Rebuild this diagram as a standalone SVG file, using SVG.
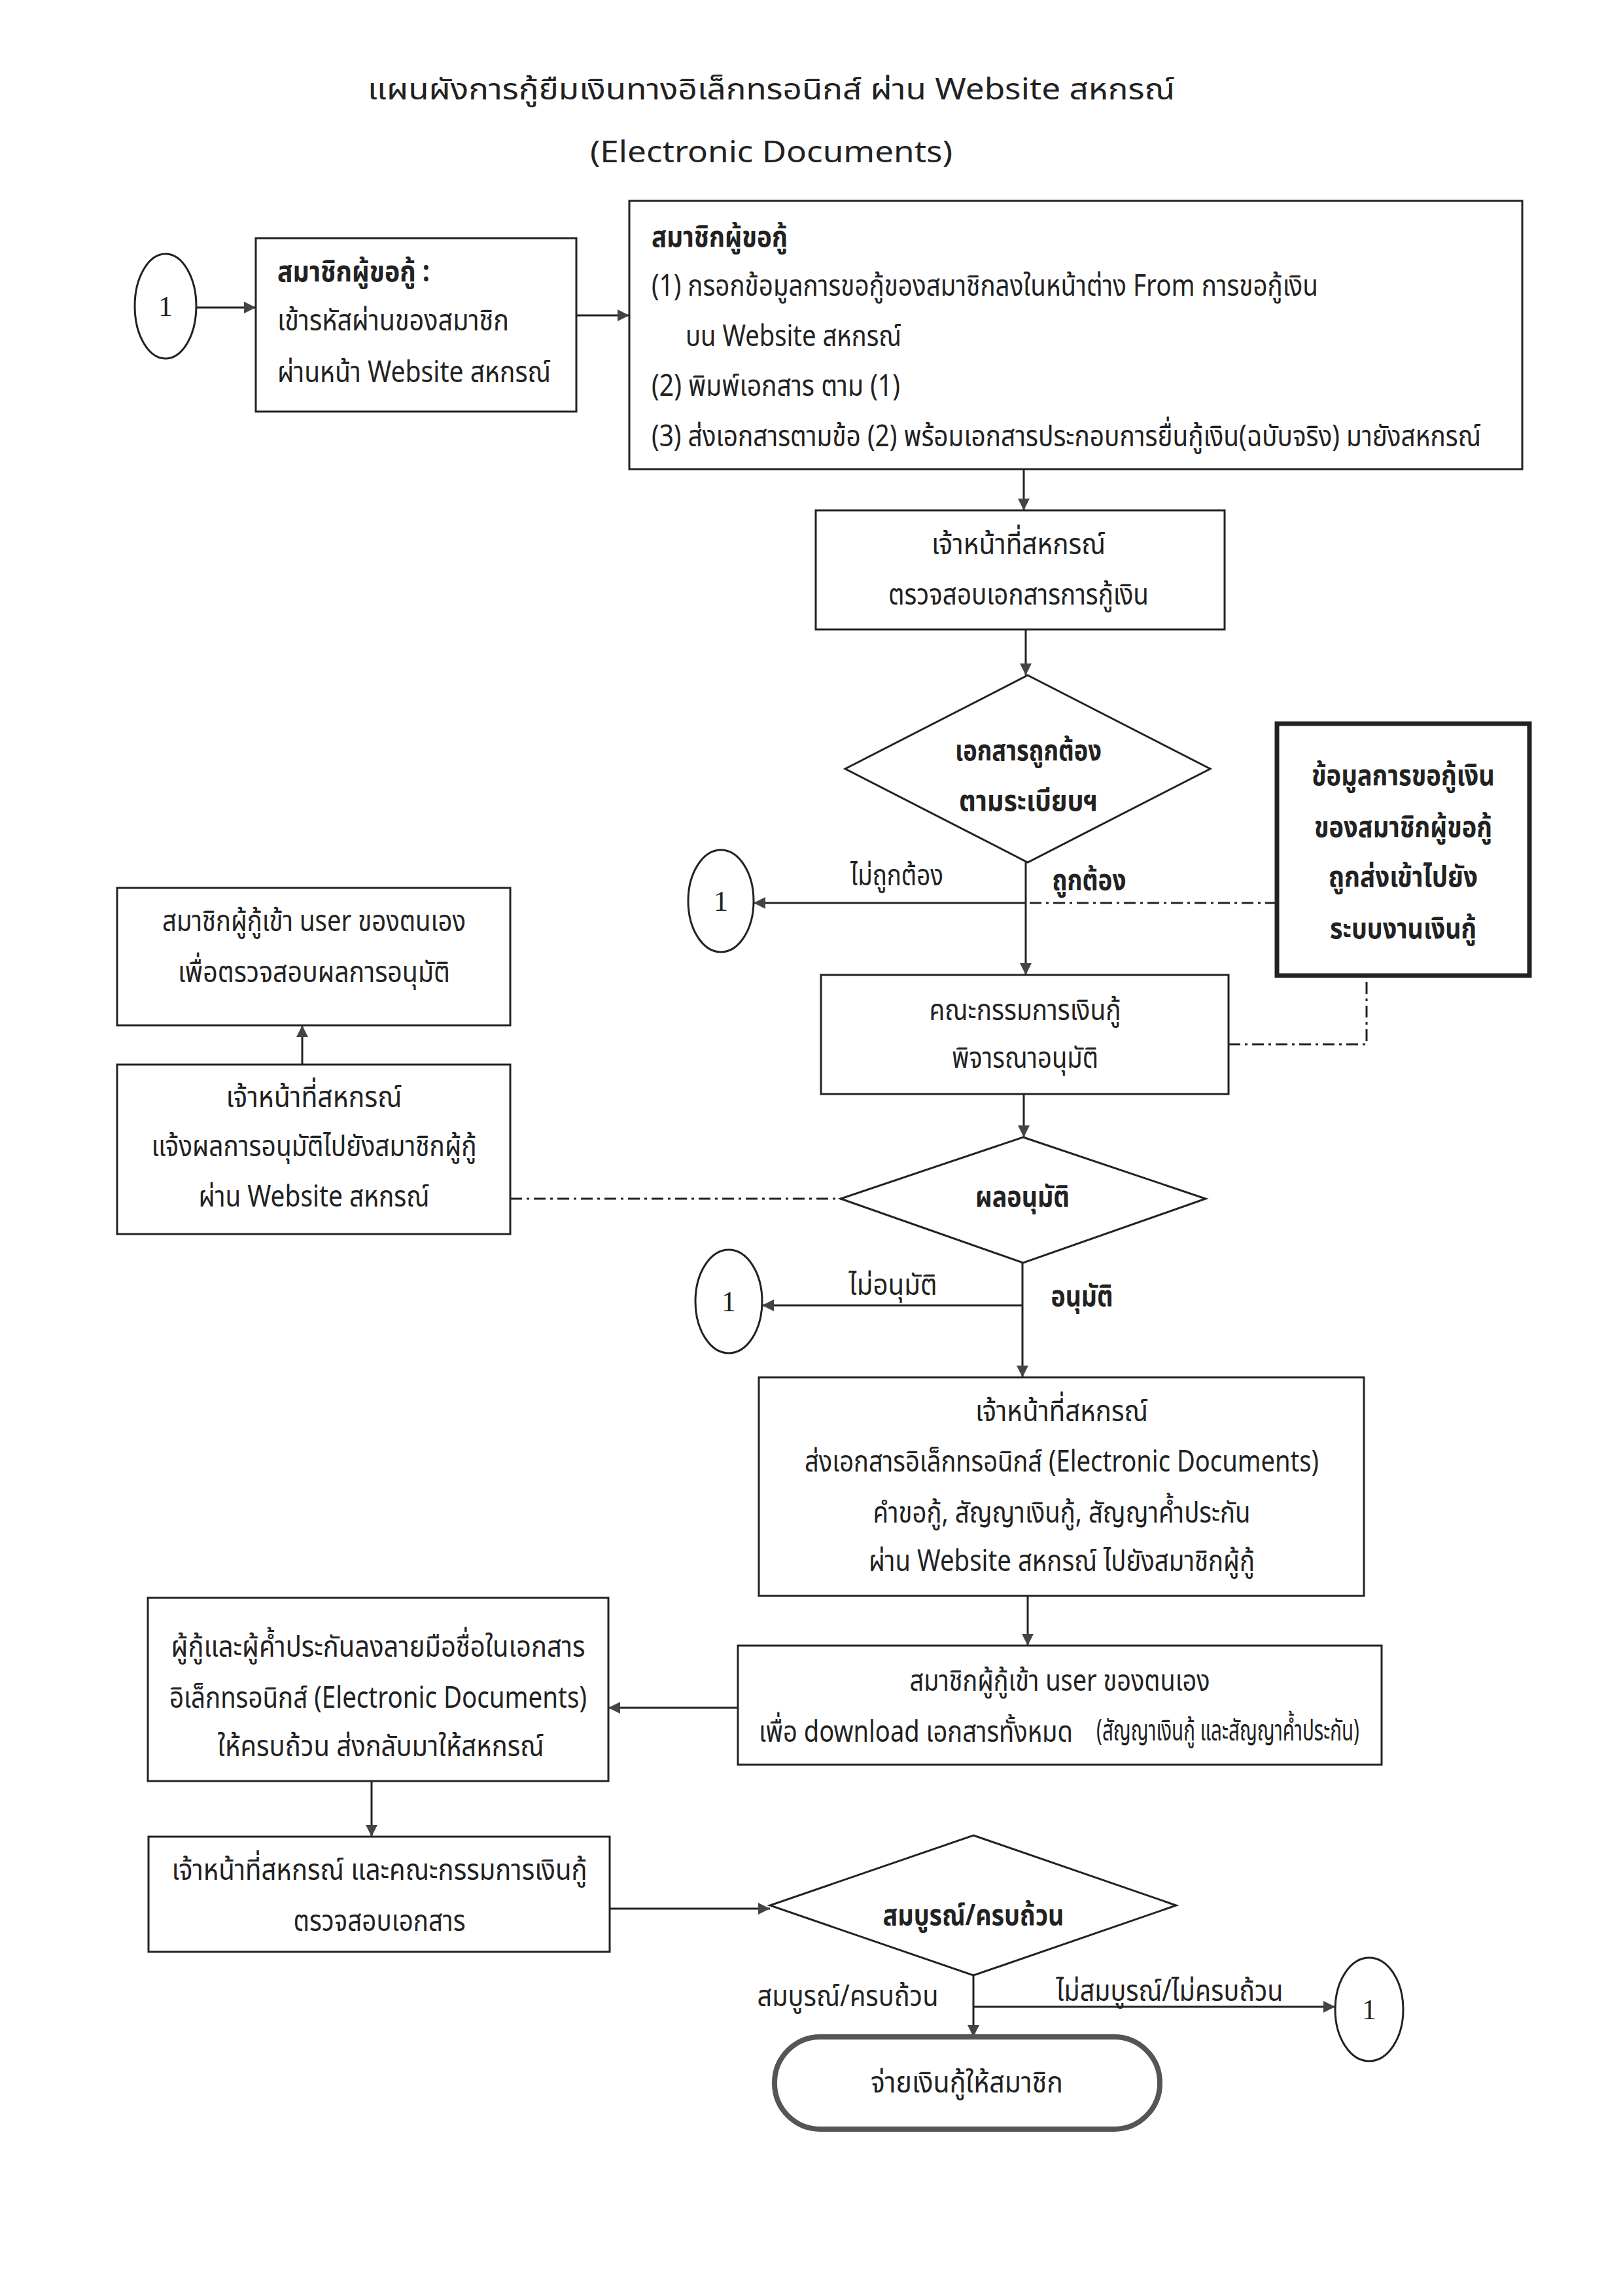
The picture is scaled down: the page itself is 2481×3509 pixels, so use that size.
<svg xmlns="http://www.w3.org/2000/svg" width="2481" height="3509" viewBox="0 0 2481 3509">
<defs>
<style>
.t{font-family:"Noto Sans Thai","Noto Sans","DejaVu Sans",sans-serif;font-size:45px;fill:#222}
.b{font-weight:bold}
.m{text-anchor:middle}
.n{font-family:"Liberation Serif",serif;font-size:44px;fill:#222;text-anchor:middle}
.box{fill:#fff;stroke:#222;stroke-width:3}
.ln{fill:none;stroke:#222;stroke-width:3}
.dd{fill:none;stroke:#222;stroke-width:3;stroke-dasharray:18 7 4 7}
</style>
<marker id="ar" viewBox="0 0 10 10" refX="10" refY="5" markerWidth="24" markerHeight="18" markerUnits="userSpaceOnUse" orient="auto">
<path d="M0,0 L10,5 L0,10 z" fill="#444"/>
</marker>
</defs>
<rect x="0" y="0" width="2481" height="3509" fill="#fff"/>

<g id="title">
<text class="t m" x="1179" y="152" font-size="51" textLength="1234" lengthAdjust="spacingAndGlyphs">แผนผังการกู้ยืมเงินทางอิเล็กทรอนิกส์ ผ่าน Website สหกรณ์</text>
<text class="t m" x="1179" y="248" font-size="50" textLength="554" lengthAdjust="spacingAndGlyphs">(Electronic Documents)</text>
</g>

<g id="connectors">
<path class="ln" d="M301 470 H391" marker-end="url(#ar)"/>
<path class="ln" d="M881 482 H962" marker-end="url(#ar)"/>
<path class="ln" d="M1565 717 V780" marker-end="url(#ar)"/>
<path class="ln" d="M1568 962 V1032" marker-end="url(#ar)"/>
<path class="ln" d="M1568 1318 V1490" marker-end="url(#ar)"/>
<path class="ln" d="M1568 1380 H1152" marker-end="url(#ar)"/>
<path class="dd" d="M1952 1380 H1568"/>
<path class="dd" d="M1878 1596 H2089 V1491"/>
<path class="ln" d="M1565 1672 V1738" marker-end="url(#ar)"/>
<path class="dd" d="M780 1832 H1285"/>
<path class="ln" d="M462 1627 V1567" marker-end="url(#ar)"/>
<path class="ln" d="M1563 1930 V2105" marker-end="url(#ar)"/>
<path class="ln" d="M1563 1995 H1165" marker-end="url(#ar)"/>
<path class="ln" d="M1571 2439 V2515" marker-end="url(#ar)"/>
<path class="ln" d="M1128 2610 H930" marker-end="url(#ar)"/>
<path class="ln" d="M568 2722 V2807" marker-end="url(#ar)"/>
<path class="ln" d="M932 2917 H1177" marker-end="url(#ar)"/>
<path class="ln" d="M1488 3019 V3113" marker-end="url(#ar)"/>
<path class="ln" d="M1488 3067 H2041" marker-end="url(#ar)"/>
</g>

<g id="labels">
<text class="t m" x="1371" y="1353" textLength="142" lengthAdjust="spacingAndGlyphs">ไม่ถูกต้อง</text>
<text class="t m b" x="1665" y="1360" textLength="113" lengthAdjust="spacingAndGlyphs">ถูกต้อง</text>
<text class="t m" x="1365" y="1979" textLength="135" lengthAdjust="spacingAndGlyphs">ไม่อนุมัติ</text>
<text class="t m b" x="1654" y="1996" textLength="95" lengthAdjust="spacingAndGlyphs">อนุมัติ</text>
<text class="t m" x="1296" y="3066" textLength="277" lengthAdjust="spacingAndGlyphs">สมบูรณ์/ครบถ้วน</text>
<text class="t m" x="1788" y="3058" textLength="347" lengthAdjust="spacingAndGlyphs">ไม่สมบูรณ์/ไม่ครบถ้วน</text>
</g>

<g id="c1">
<ellipse class="box" cx="253" cy="468" rx="47" ry="80"/>
<text class="n" x="253" y="483">1</text>
</g>

<g id="nA">
<rect class="box" x="391" y="364" width="490" height="265"/>
<text class="t b" x="424" y="430" textLength="233" lengthAdjust="spacingAndGlyphs">สมาชิกผู้ขอกู้ :</text>
<text class="t" x="424" y="505" textLength="354" lengthAdjust="spacingAndGlyphs">เข้ารหัสผ่านของสมาชิก</text>
<text class="t" x="424" y="584" textLength="418" lengthAdjust="spacingAndGlyphs">ผ่านหน้า Website สหกรณ์</text>
</g>

<g id="nB">
<rect class="box" x="962" y="307" width="1365" height="410"/>
<text class="t b" x="996" y="377" textLength="208" lengthAdjust="spacingAndGlyphs">สมาชิกผู้ขอกู้</text>
<text class="t" x="996" y="452" textLength="1019" lengthAdjust="spacingAndGlyphs">(1) กรอกข้อมูลการขอกู้ของสมาชิกลงในหน้าต่าง From การขอกู้เงิน</text>
<text class="t" x="1048" y="529" textLength="330" lengthAdjust="spacingAndGlyphs">บน Website สหกรณ์</text>
<text class="t" x="996" y="605" textLength="380" lengthAdjust="spacingAndGlyphs">(2) พิมพ์เอกสาร ตาม (1)</text>
<text class="t" x="996" y="682" textLength="1268" lengthAdjust="spacingAndGlyphs">(3) ส่งเอกสารตามข้อ (2) พร้อมเอกสารประกอบการยื่นกู้เงิน(ฉบับจริง) มายังสหกรณ์</text>
</g>

<g id="nC">
<rect class="box" x="1247" y="780" width="625" height="182"/>
<text class="t m" x="1557" y="847" textLength="266" lengthAdjust="spacingAndGlyphs">เจ้าหน้าที่สหกรณ์</text>
<text class="t m" x="1557" y="924" textLength="398" lengthAdjust="spacingAndGlyphs">ตรวจสอบเอกสารการกู้เงิน</text>
</g>

<g id="nD1">
<polygon class="box" points="1571,1032 1850,1175 1571,1318 1292,1175"/>
<text class="t m b" x="1572" y="1162" textLength="224" lengthAdjust="spacingAndGlyphs">เอกสารถูกต้อง</text>
<text class="t m b" x="1572" y="1239" textLength="212" lengthAdjust="spacingAndGlyphs">ตามระเบียบฯ</text>
</g>

<g id="nE">
<rect x="1952" y="1106" width="386" height="385" fill="#fff" stroke="#222" stroke-width="7"/>
<text class="t m b" x="2145" y="1200" textLength="280" lengthAdjust="spacingAndGlyphs">ข้อมูลการขอกู้เงิน</text>
<text class="t m b" x="2145" y="1279" textLength="272" lengthAdjust="spacingAndGlyphs">ของสมาชิกผู้ขอกู้</text>
<text class="t m b" x="2145" y="1355" textLength="228" lengthAdjust="spacingAndGlyphs">ถูกส่งเข้าไปยัง</text>
<text class="t m b" x="2145" y="1434" textLength="224" lengthAdjust="spacingAndGlyphs">ระบบงานเงินกู้</text>
</g>

<g id="c2">
<ellipse class="box" cx="1102" cy="1377" rx="50" ry="78"/>
<text class="n" x="1102" y="1392">1</text>
</g>

<g id="nF">
<rect class="box" x="1255" y="1490" width="623" height="182"/>
<text class="t m" x="1567" y="1559" textLength="293" lengthAdjust="spacingAndGlyphs">คณะกรรมการเงินกู้</text>
<text class="t m" x="1567" y="1632" textLength="224" lengthAdjust="spacingAndGlyphs">พิจารณาอนุมัติ</text>
</g>

<g id="nG">
<rect class="box" x="179" y="1357" width="601" height="210"/>
<text class="t m" x="480" y="1423" textLength="464" lengthAdjust="spacingAndGlyphs">สมาชิกผู้กู้เข้า user ของตนเอง</text>
<text class="t m" x="480" y="1501" textLength="416" lengthAdjust="spacingAndGlyphs">เพื่อตรวจสอบผลการอนุมัติ</text>
</g>

<g id="nH">
<rect class="box" x="179" y="1627" width="601" height="259"/>
<text class="t m" x="480" y="1692" textLength="269" lengthAdjust="spacingAndGlyphs">เจ้าหน้าที่สหกรณ์</text>
<text class="t m" x="480" y="1767" textLength="497" lengthAdjust="spacingAndGlyphs">แจ้งผลการอนุมัติไปยังสมาชิกผู้กู้</text>
<text class="t m" x="480" y="1844" textLength="353" lengthAdjust="spacingAndGlyphs">ผ่าน Website สหกรณ์</text>
</g>

<g id="nD2">
<polygon class="box" points="1564,1738 1843,1832 1564,1930 1285,1832"/>
<text class="t m b" x="1563" y="1844" textLength="144" lengthAdjust="spacingAndGlyphs">ผลอนุมัติ</text>
</g>

<g id="c3">
<ellipse class="box" cx="1114" cy="1989" rx="51" ry="79"/>
<text class="n" x="1114" y="2004">1</text>
</g>

<g id="nI">
<rect class="box" x="1160" y="2105" width="925" height="334"/>
<text class="t m" x="1623" y="2172" textLength="264" lengthAdjust="spacingAndGlyphs">เจ้าหน้าที่สหกรณ์</text>
<text class="t m" x="1623" y="2249" textLength="786" lengthAdjust="spacingAndGlyphs">ส่งเอกสารอิเล็กทรอนิกส์ (Electronic Documents)</text>
<text class="t m" x="1623" y="2327" textLength="577" lengthAdjust="spacingAndGlyphs">คำขอกู้, สัญญาเงินกู้, สัญญาค้ำประกัน</text>
<text class="t m" x="1623" y="2401" textLength="590" lengthAdjust="spacingAndGlyphs">ผ่าน Website สหกรณ์ ไปยังสมาชิกผู้กู้</text>
</g>

<g id="nJ">
<rect class="box" x="1128" y="2515" width="984" height="182"/>
<text class="t m" x="1620" y="2584" textLength="459" lengthAdjust="spacingAndGlyphs">สมาชิกผู้กู้เข้า user ของตนเอง</text>
<text class="t" x="1160" y="2662" font-size="38" textLength="480" lengthAdjust="spacingAndGlyphs">เพื่อ download เอกสารทั้งหมด</text>
<text class="t" x="1676" y="2660" font-size="29" textLength="402" lengthAdjust="spacingAndGlyphs">(สัญญาเงินกู้ และสัญญาค้ำประกัน)</text>
</g>

<g id="nK">
<rect class="box" x="226" y="2442" width="704" height="280"/>
<text class="t m" x="578" y="2532" textLength="633" lengthAdjust="spacingAndGlyphs">ผู้กู้และผู้ค้ำประกันลงลายมือชื่อในเอกสาร</text>
<text class="t m" x="578" y="2610" textLength="638" lengthAdjust="spacingAndGlyphs">อิเล็กทรอนิกส์ (Electronic Documents)</text>
<text class="t m" x="582" y="2684" textLength="499" lengthAdjust="spacingAndGlyphs">ให้ครบถ้วน ส่งกลับมาให้สหกรณ์</text>
</g>

<g id="nL">
<rect class="box" x="227" y="2807" width="705" height="176"/>
<text class="t m" x="580" y="2873" textLength="635" lengthAdjust="spacingAndGlyphs">เจ้าหน้าที่สหกรณ์ และคณะกรรมการเงินกู้</text>
<text class="t m" x="580" y="2951" textLength="263" lengthAdjust="spacingAndGlyphs">ตรวจสอบเอกสาร</text>
</g>

<g id="nD3">
<polygon class="box" points="1488,2805 1798,2912 1488,3019 1177,2912"/>
<text class="t m b" x="1488" y="2942" textLength="277" lengthAdjust="spacingAndGlyphs">สมบูรณ์/ครบถ้วน</text>
</g>

<g id="c4">
<ellipse class="box" cx="2093" cy="3071" rx="52" ry="79"/>
<text class="n" x="2093" y="3086">1</text>
</g>

<g id="nEnd">
<rect x="1184" y="3113" width="589" height="141" rx="70" ry="70" fill="#fff" stroke="#555" stroke-width="8"/>
<text class="t m" x="1478" y="3198" textLength="294" lengthAdjust="spacingAndGlyphs">จ่ายเงินกู้ให้สมาชิก</text>
</g>
</svg>
